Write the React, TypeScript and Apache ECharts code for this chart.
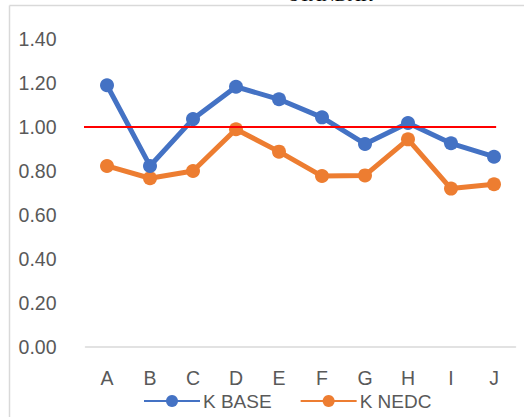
import React, { useEffect, useRef } from "react";
import * as echarts from "echarts";

const categories = ["A", "B", "C", "D", "E", "F", "G", "H", "I", "J"];
const kBase = [1.19, 0.823, 1.036, 1.183, 1.126, 1.044, 0.923, 1.018, 0.926, 0.865];
const kNedc = [0.823, 0.767, 0.8, 0.99, 0.888, 0.777, 0.78, 0.944, 0.72, 0.74];
const limitX = [-0.06, 9.55];
const limitY = [1.0, 1.0];
const titleText = "STANDAR";

export default function App() {
  const ref = useRef<HTMLDivElement>(null);
  useEffect(() => {
    if (!ref.current) return;
    const chart = echarts.init(ref.current, undefined, { renderer: "svg" });
    const font = "'Liberation Sans', Arial, sans-serif";
    chart.setOption({
      animation: false,
      backgroundColor: "#ffffff",
      grid: { left: 85.5, right: 8.5, top: 39, bottom: 70, containLabel: false },
      graphic: [
        { type: "line", shape: { x1: 9.5, y1: 5.5, x2: 524, y2: 5.5 }, style: { stroke: "#d9d9d9", lineWidth: 1.5 } },
        { type: "line", shape: { x1: 9.5, y1: 5.5, x2: 9.5, y2: 417 }, style: { stroke: "#d9d9d9", lineWidth: 1.5 } },
        {
          type: "text",
          x: 331,
          y: 4,
          style: {
            text: titleText,
            font: "18px 'Liberation Serif', serif",
            fill: "#000000",
            textAlign: "center",
            textVerticalAlign: "bottom",
          },
        },
      ],
      legend: {
        top: 391.5,
        left: 143,
        padding: 0,
        itemWidth: 56,
        itemHeight: 15,
        itemGap: 28,
        textStyle: { fontFamily: font, fontSize: 19, color: "#595959", padding: [0, 0, 0, -2] },
        data: ["K BASE", "K NEDC"],
      },
      xAxis: [
        {
          type: "category",
          data: categories,
          boundaryGap: true,
          axisTick: { show: false },
          axisLine: { lineStyle: { color: "#d9d9d9", width: 1.5 } },
          axisLabel: { fontFamily: font, fontSize: 19.5, color: "#595959", margin: 21 },
        },
        { type: "value", min: 0, max: 10, show: false },
      ],
      yAxis: {
        type: "value",
        min: 0,
        max: 1.4,
        interval: 0.2,
        axisLine: { show: false },
        axisTick: { show: false },
        splitLine: { show: false },
        axisLabel: {
          fontFamily: font,
          fontSize: 19.5,
          color: "#595959",
          margin: 29,
          formatter: (v: number) => v.toFixed(2),
        },
      },
      series: [
        {
          name: "K BASE",
          type: "line",
          data: kBase,
          symbol: "circle",
          symbolSize: 14,
          lineStyle: { width: 5, color: "#4472C4" },
          itemStyle: { color: "#4472C4" },
          z: 3,
        },
        {
          name: "K NEDC",
          type: "line",
          data: kNedc,
          symbol: "circle",
          symbolSize: 14,
          lineStyle: { width: 5, color: "#ED7D31" },
          itemStyle: { color: "#ED7D31" },
          z: 2,
        },
        {
          name: "limit",
          type: "line",
          xAxisIndex: 1,
          data: limitX.map((x, i) => [x, limitY[i]]),
          symbol: "none",
          clip: false,
          lineStyle: { width: 2, color: "#FF0000" },
          z: 4,
        },
      ],
    });
    return () => chart.dispose();
  }, []);
  return <div ref={ref} style={{ position: "absolute", left: 0, top: 0, width: 524, height: 417 }} />;
}
